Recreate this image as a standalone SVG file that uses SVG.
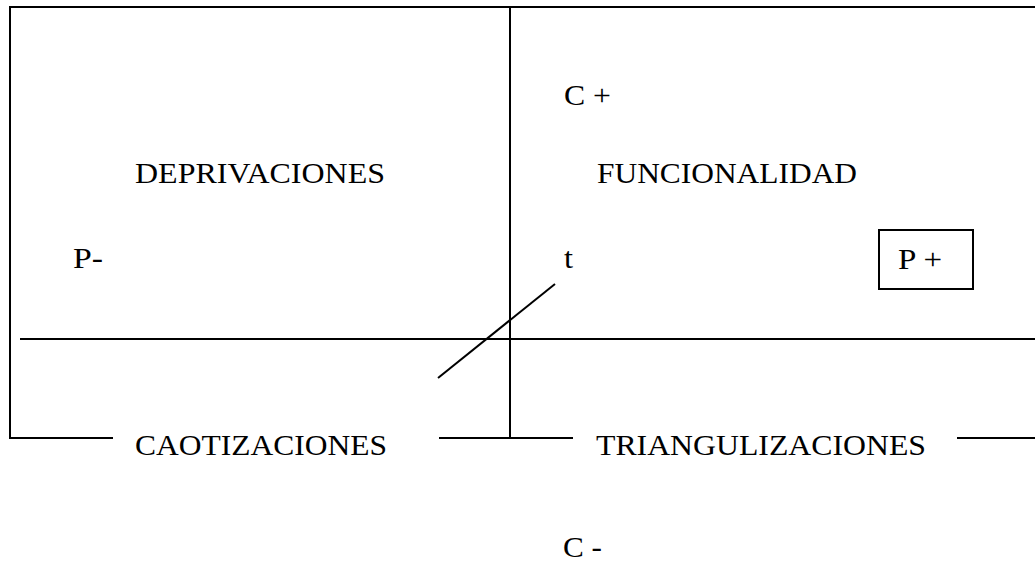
<svg xmlns="http://www.w3.org/2000/svg" width="1035" height="561" viewBox="0 0 1035 561">
<style>
.ln{stroke:#000;stroke-width:2;fill:none}
.tx{font-family:"Liberation Serif","Times New Roman",serif;font-size:29px;fill:#000}
</style>
<rect width="1035" height="561" fill="#fff"/>
<g id="connectors">
<line class="ln" x1="10" y1="7" x2="1035" y2="7"/>
<line class="ln" x1="10" y1="6" x2="10" y2="439"/>
<line class="ln" x1="510" y1="7" x2="510" y2="438"/>
<line class="ln" x1="20" y1="339" x2="1035" y2="339"/>
<line class="ln" x1="9" y1="438" x2="113" y2="438"/>
<line class="ln" x1="439" y1="438" x2="573" y2="438"/>
<line class="ln" x1="957" y1="438" x2="1035" y2="438"/>
<line class="ln" x1="438" y1="378" x2="555" y2="284"/>
</g>
<g id="deprivaciones"><text class="tx" x="135" y="183" textLength="250" lengthAdjust="spacingAndGlyphs">DEPRIVACIONES</text></g>
<g id="funcionalidad"><text class="tx" x="597" y="183" textLength="260" lengthAdjust="spacingAndGlyphs">FUNCIONALIDAD</text></g>
<g id="c-plus"><text class="tx" x="564" y="105" textLength="47" lengthAdjust="spacingAndGlyphs">C +</text></g>
<g id="p-minus"><text class="tx" x="73" y="268" textLength="30" lengthAdjust="spacingAndGlyphs">P-</text></g>
<g id="t"><text class="tx" x="564" y="268" textLength="9" lengthAdjust="spacingAndGlyphs">t</text></g>
<g id="p-plus"><rect class="ln" x="879" y="230" width="94" height="59"/><text class="tx" x="898" y="269" textLength="44" lengthAdjust="spacingAndGlyphs">P +</text></g>
<g id="caotizaciones"><text class="tx" x="135" y="455" textLength="252" lengthAdjust="spacingAndGlyphs">CAOTIZACIONES</text></g>
<g id="triangulizaciones"><text class="tx" x="596" y="455" textLength="330" lengthAdjust="spacingAndGlyphs">TRIANGULIZACIONES</text></g>
<g id="c-minus"><text class="tx" x="563" y="557" textLength="39" lengthAdjust="spacingAndGlyphs">C -</text></g>
</svg>
